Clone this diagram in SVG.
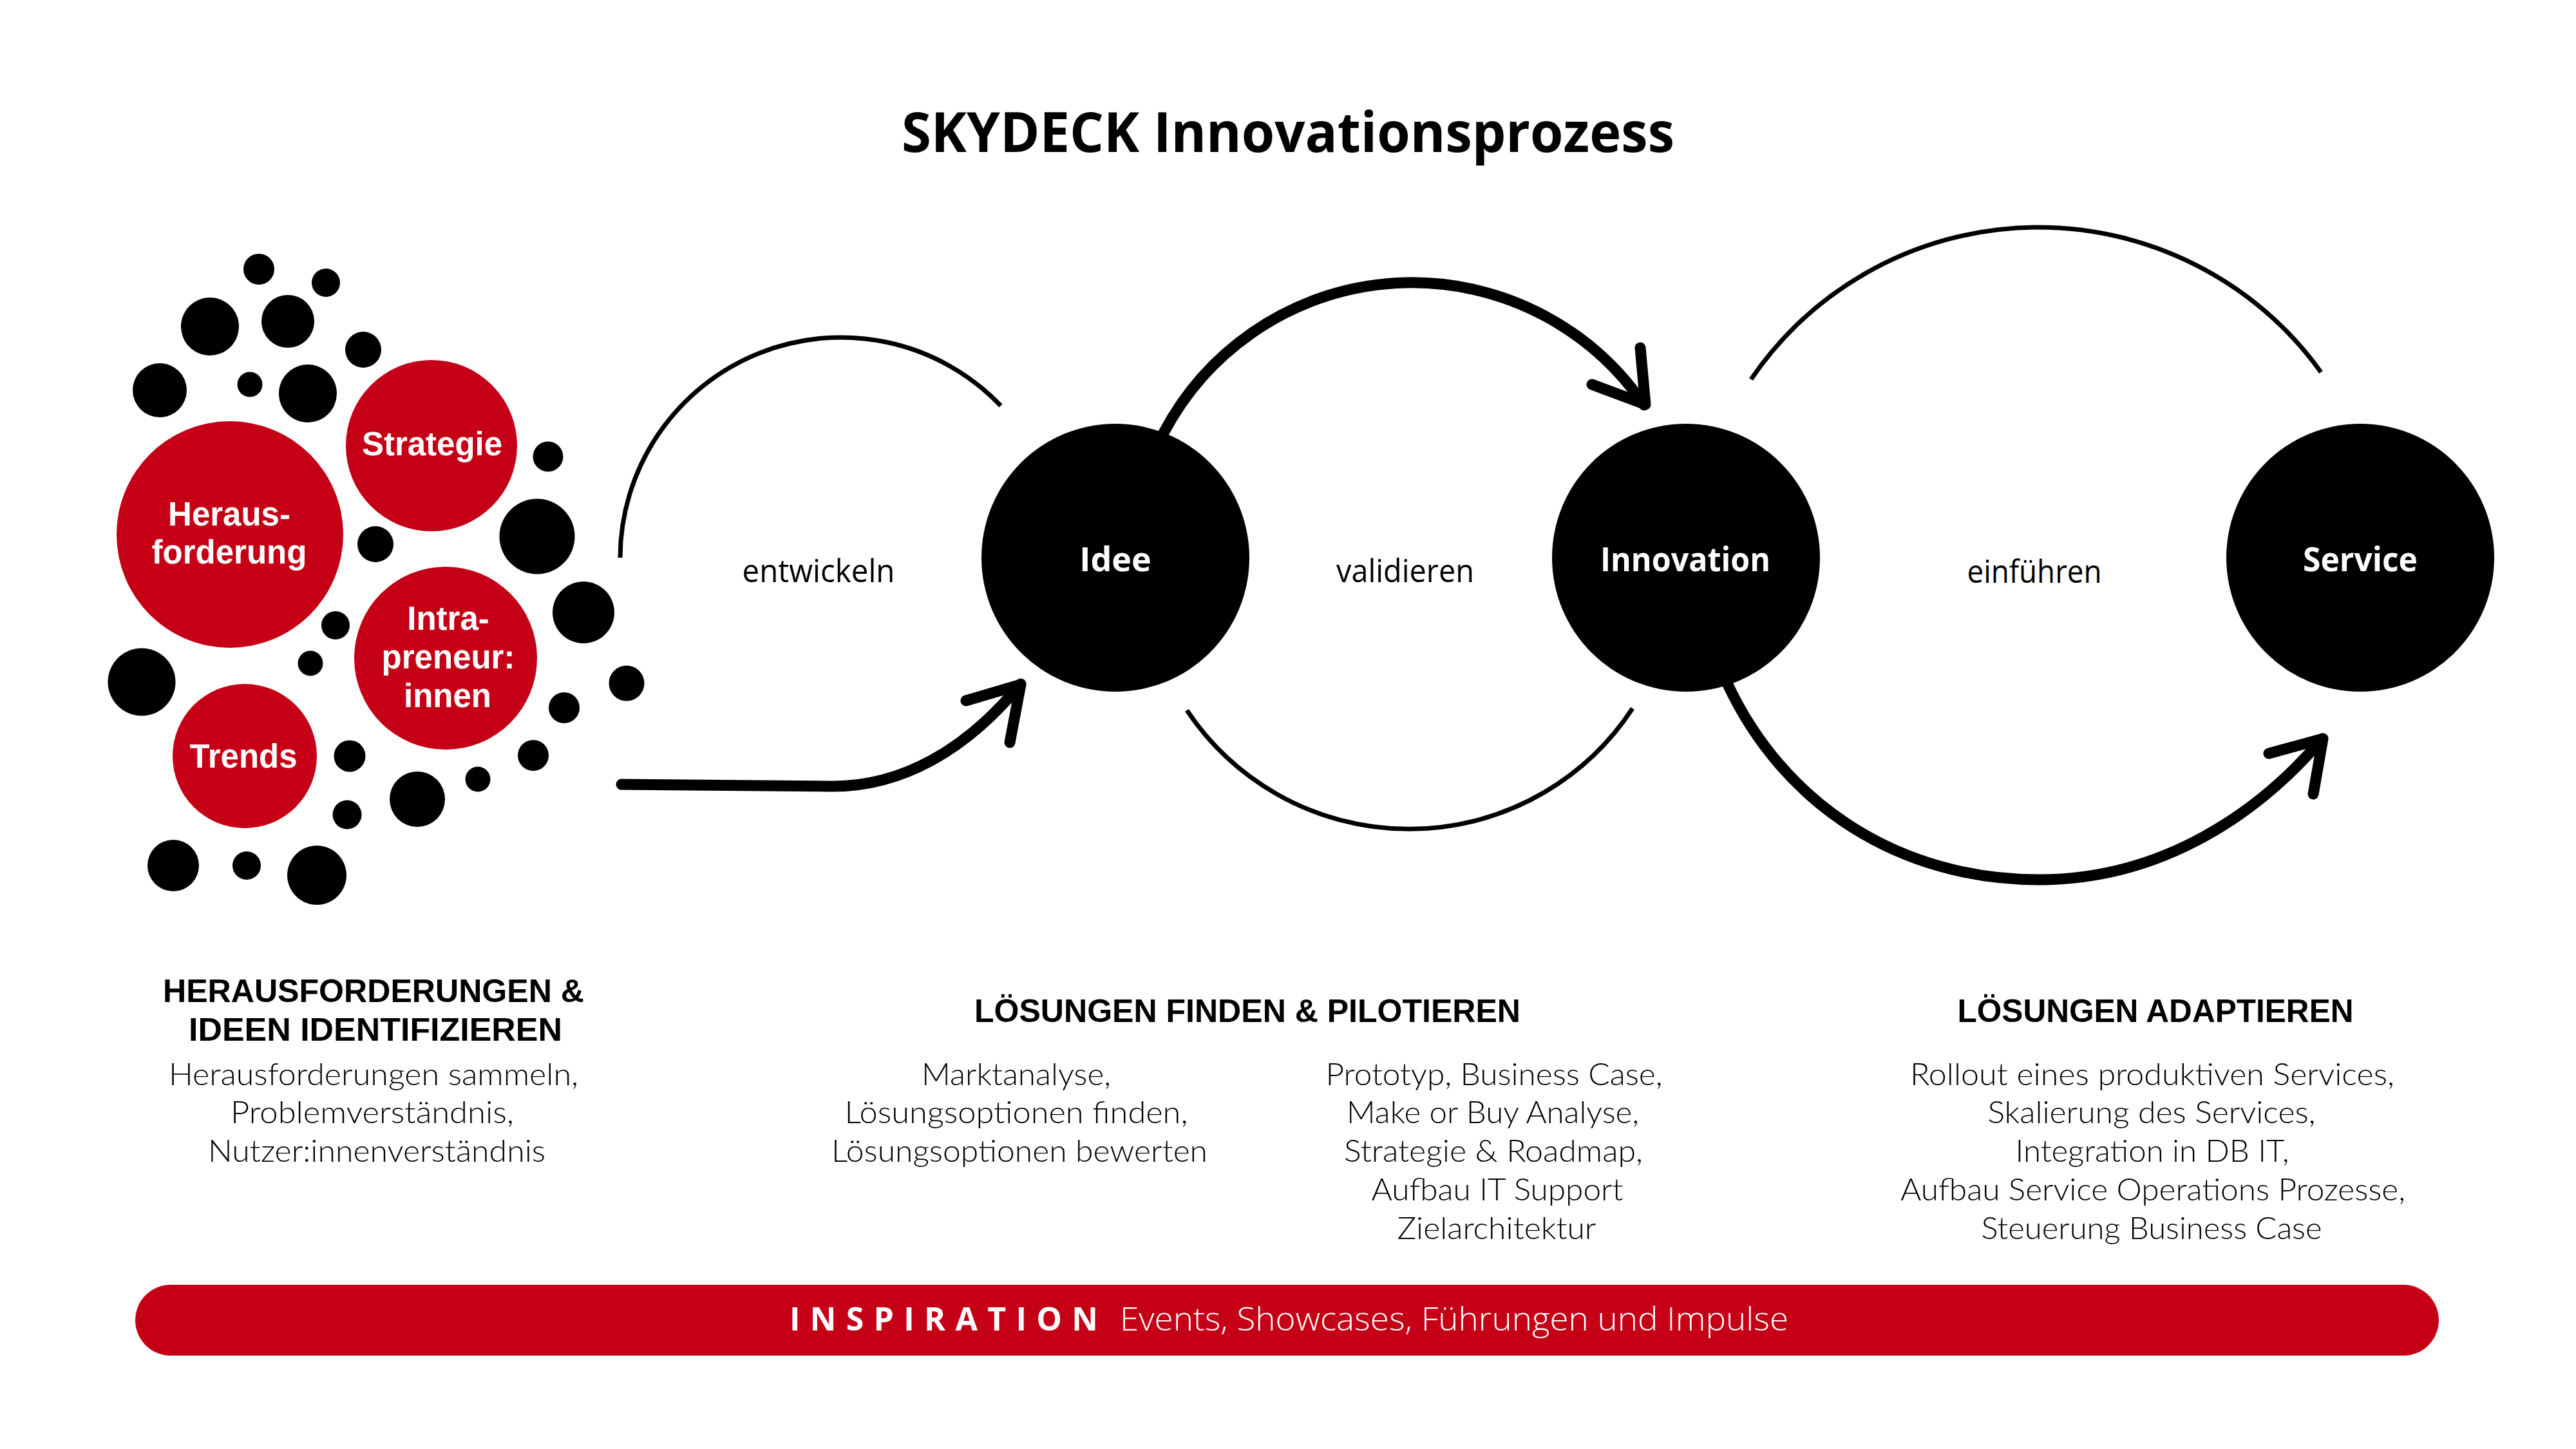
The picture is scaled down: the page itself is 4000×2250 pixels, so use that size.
<svg xmlns="http://www.w3.org/2000/svg" width="4000" height="2250" viewBox="0 0 4000 2250">
<style>
.red{fill:#c50016}
.dot{fill:#000}
.node{fill:#000}
.wl{fill:#fff;font-family:"Open Sans","Noto Sans",sans-serif;font-weight:700;font-size:52px;text-anchor:middle}
.cl{fill:#fff;font-family:"Liberation Sans",Arial,sans-serif;font-weight:700;font-size:51px;text-anchor:middle}
.title{fill:#000;font-family:"Open Sans","Noto Sans",sans-serif;font-weight:700;font-size:86px;text-anchor:middle}
.lab{fill:#000;font-family:"Open Sans","Noto Sans",sans-serif;font-weight:400;font-size:50px;text-anchor:middle}
.head{fill:#000;font-family:"Liberation Sans",Arial,sans-serif;font-weight:700;font-size:50px;text-anchor:middle}
.body{fill:#000;font-family:Lato,"Liberation Sans",sans-serif;font-weight:300;font-size:48px;text-anchor:middle}
.thin{fill:none;stroke:#000;stroke-width:7}
.thick{fill:none;stroke:#000;stroke-width:17;stroke-linecap:round;stroke-linejoin:round}
.insp{fill:#fff;font-family:"Open Sans","Noto Sans",sans-serif;font-size:50px}
</style>
<rect width="4000" height="2250" fill="#fff"/>
<text class="title" x="2000" y="236" textLength="1200" lengthAdjust="spacingAndGlyphs">SKYDECK Innovationsprozess</text>

<g id="dots">
<circle class="dot" cx="402" cy="418" r="24"/>
<circle class="dot" cx="506" cy="439" r="22"/>
<circle class="dot" cx="326" cy="507" r="45"/>
<circle class="dot" cx="447" cy="499" r="41"/>
<circle class="dot" cx="564" cy="543" r="28"/>
<circle class="dot" cx="248" cy="606" r="42"/>
<circle class="dot" cx="388" cy="597" r="19.5"/>
<circle class="dot" cx="478" cy="611" r="45"/>
<circle class="dot" cx="851" cy="709" r="23.5"/>
<circle class="dot" cx="834" cy="833" r="58.5"/>
<circle class="dot" cx="583" cy="845" r="28"/>
<circle class="dot" cx="906" cy="951" r="48"/>
<circle class="dot" cx="521" cy="971" r="22"/>
<circle class="dot" cx="482" cy="1030" r="19.5"/>
<circle class="dot" cx="220" cy="1059" r="52.5"/>
<circle class="dot" cx="973" cy="1061" r="27.5"/>
<circle class="dot" cx="876" cy="1099" r="24"/>
<circle class="dot" cx="828" cy="1173" r="24"/>
<circle class="dot" cx="543" cy="1174" r="24.5"/>
<circle class="dot" cx="742" cy="1210" r="19.5"/>
<circle class="dot" cx="648" cy="1241" r="43"/>
<circle class="dot" cx="539" cy="1265" r="22.5"/>
<circle class="dot" cx="269" cy="1344" r="40"/>
<circle class="dot" cx="383" cy="1344" r="22"/>
<circle class="dot" cx="492" cy="1359" r="46"/>
</g>

<g id="herausforderung">
<circle class="red" cx="357" cy="830" r="176"/>
<text class="cl"><tspan x="356" y="816">Heraus-</tspan><tspan x="356" y="875">forderung</tspan></text>
</g>
<g id="strategie">
<circle class="red" cx="670" cy="692" r="133"/>
<text class="cl" x="671" y="707">Strategie</text>
</g>
<g id="intrapreneur">
<circle class="red" cx="692" cy="1022" r="142"/>
<text class="cl"><tspan x="696" y="978">Intra-</tspan><tspan x="696" y="1038">preneur:</tspan><tspan x="695" y="1098">innen</tspan></text>
</g>
<g id="trends">
<circle class="red" cx="380" cy="1174" r="112"/>
<text class="cl" x="378" y="1192">Trends</text>
</g>

<g id="connectors">
<path class="thin" d="M 963 866 A 343 343 0 0 1 1554 630"/>
<path class="thick" d="M 965 1218 L 1290 1221 C 1400 1222 1500 1165 1585 1062"/>
<path class="thick" d="M 1500 1088 L 1585 1063 L 1568 1153"/>
<path class="thick" d="M 1807 672 A 436 436 0 0 1 2553 629"/>
<path class="thick" d="M 2472 597 L 2555 628 L 2547 540"/>
<path class="thin" d="M 1843 1103 A 415 415 0 0 0 2535 1100"/>
<path class="thin" d="M 2719 589 A 540 540 0 0 1 3604 578"/>
<path class="thick" d="M 2682 1061 C 2770 1250 2950 1366 3166 1366 C 3360 1366 3510 1260 3606 1147"/>
<path class="thick" d="M 3523 1170 L 3607 1147 L 3592 1233"/>
</g>

<g id="labels">
<text class="lab" x="1271" y="904" textLength="237" lengthAdjust="spacingAndGlyphs">entwickeln</text>
<text class="lab" x="2182" y="904" textLength="214" lengthAdjust="spacingAndGlyphs">validieren</text>
<text class="lab" x="3159" y="905" textLength="209" lengthAdjust="spacingAndGlyphs">einführen</text>
</g>

<g id="idee">
<circle class="node" cx="1732" cy="866" r="208"/>
<text class="wl" x="1732" y="887">Idee</text>
</g>
<g id="innovation">
<circle class="node" cx="2618" cy="866" r="208"/>
<text class="wl" x="2617" y="887" textLength="264" lengthAdjust="spacingAndGlyphs">Innovation</text>
</g>
<g id="service">
<circle class="node" cx="3665" cy="866" r="208"/>
<text class="wl" x="3665" y="887" textLength="178" lengthAdjust="spacingAndGlyphs">Service</text>
</g>

<g id="section1">
<text class="head"><tspan x="580" y="1556" textLength="654" lengthAdjust="spacingAndGlyphs">HERAUSFORDERUNGEN &amp;</tspan><tspan x="583" y="1616" textLength="580" lengthAdjust="spacingAndGlyphs">IDEEN IDENTIFIZIEREN</tspan></text>
<text class="body"><tspan x="580" y="1685" textLength="636" lengthAdjust="spacingAndGlyphs">Herausforderungen sammeln,</tspan><tspan x="578" y="1744" textLength="440" lengthAdjust="spacingAndGlyphs">Problemverständnis,</tspan><tspan x="585" y="1804" textLength="524" lengthAdjust="spacingAndGlyphs">Nutzer:innenverständnis</tspan></text>
</g>

<g id="section2">
<text class="head" x="1937" y="1587" textLength="848" lengthAdjust="spacingAndGlyphs">LÖSUNGEN FINDEN &amp; PILOTIEREN</text>
<text class="body"><tspan x="1578" y="1685" textLength="294" lengthAdjust="spacingAndGlyphs">Marktanalyse,</tspan><tspan x="1578" y="1744" textLength="533" lengthAdjust="spacingAndGlyphs">Lösungsoptionen finden,</tspan><tspan x="1583" y="1804" textLength="584" lengthAdjust="spacingAndGlyphs">Lösungsoptionen bewerten</tspan></text>
<text class="body"><tspan x="2320" y="1685" textLength="523" lengthAdjust="spacingAndGlyphs">Prototyp, Business Case,</tspan><tspan x="2318" y="1744" textLength="454" lengthAdjust="spacingAndGlyphs">Make or Buy Analyse,</tspan><tspan x="2319" y="1804" textLength="464" lengthAdjust="spacingAndGlyphs">Strategie &amp; Roadmap,</tspan><tspan x="2325" y="1864" textLength="391" lengthAdjust="spacingAndGlyphs">Aufbau IT Support</tspan><tspan x="2324" y="1924" textLength="309" lengthAdjust="spacingAndGlyphs">Zielarchitektur</tspan></text>
</g>

<g id="section3">
<text class="head" x="3347" y="1587" textLength="615" lengthAdjust="spacingAndGlyphs">LÖSUNGEN ADAPTIEREN</text>
<text class="body"><tspan x="3342" y="1685" textLength="752" lengthAdjust="spacingAndGlyphs">Rollout eines produktiven Services,</tspan><tspan x="3341" y="1744" textLength="509" lengthAdjust="spacingAndGlyphs">Skalierung des Services,</tspan><tspan x="3342" y="1804" textLength="425" lengthAdjust="spacingAndGlyphs">Integration in DB IT,</tspan><tspan x="3343" y="1864" textLength="784" lengthAdjust="spacingAndGlyphs">Aufbau Service Operations Prozesse,</tspan><tspan x="3341" y="1924" textLength="529" lengthAdjust="spacingAndGlyphs">Steuerung Business Case</tspan></text>
</g>

<g id="inspiration">
<rect class="red" x="210" y="1995" width="3577" height="110" rx="55"/>
<text class="insp" x="1226" y="2066" font-weight="700" textLength="479" lengthAdjust="spacing">INSPIRATION</text>
<text class="insp" x="1739" y="2066" font-weight="300" textLength="1038" lengthAdjust="spacingAndGlyphs">Events, Showcases, Führungen und Impulse</text>
</g>
</svg>
